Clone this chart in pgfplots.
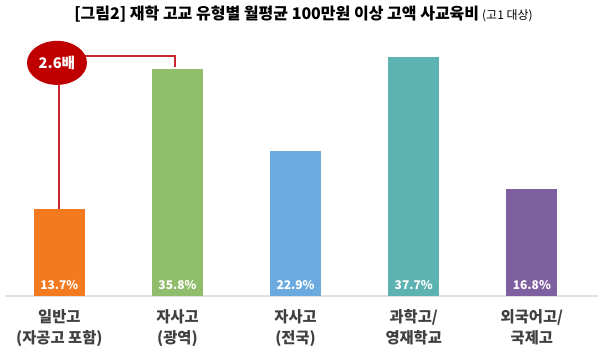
\documentclass[border=0pt]{standalone}
\usepackage{fontspec}
\setmainfont{Noto Sans CJK KR}
\usepackage{pgfplots}
\pgfplotsset{compat=1.18}
\definecolor{cOr}{HTML}{F47A1F}
\definecolor{cGr}{HTML}{8FBD6B}
\definecolor{cBl}{HTML}{6AAADF}
\definecolor{cTe}{HTML}{5CB3B1}
\definecolor{cPu}{HTML}{7E5FA0}
\definecolor{cRed}{HTML}{C00000}
\definecolor{cLine}{HTML}{C8282E}
\definecolor{cTxt}{HTML}{404040}
\tikzset{vlab/.style={text=white, font=\fontsize{9}{10}\selectfont\bfseries, yshift=8pt}}
\begin{document}
\begin{tikzpicture}
\begin{axis}[
  scale only axis, width=444.75pt, height=222pt,
  xmin=-0.46, xmax=4.56, ymin=0, ymax=46.6,
  axis x line=bottom, axis y line=none,
  x axis line style={-, draw=black!12, line width=1pt},
  xtick={0,1,2,3,4}, major tick length=0pt,
  xticklabels={일반고\\(자공고 포함), 자사고\\(광역), 자사고\\(전국), 과학고/\\영재학교, 외국어고/\\국제고},
  xticklabel style={align=center, font=\fontsize{11.5}{15.75}\selectfont\bfseries, text=cTxt, anchor=north, yshift=-6.5pt},
  ybar, bar width=38.25pt, bar shift=0pt,
  clip=false,
]
\addplot[fill=cOr, draw=none] coordinates {(0,13.7)};
\addplot[fill=cGr, draw=none] coordinates {(1,35.8)};
\addplot[fill=cBl, draw=none] coordinates {(2,22.9)};
\addplot[fill=cTe, draw=none] coordinates {(3,37.7)};
\addplot[fill=cPu, draw=none] coordinates {(4,16.8)};
\node[vlab] at (axis cs:0,0) {13.7\%};
\node[vlab] at (axis cs:1,0) {35.8\%};
\node[vlab] at (axis cs:2,0) {22.9\%};
\node[vlab] at (axis cs:3,0) {37.7\%};
\node[vlab] at (axis cs:4,0) {16.8\%};
\draw[cLine, line width=1.6pt] (axis cs:0,13.7) -- (axis cs:0,36.7);
\draw[cLine, line width=1.6pt] (axis cs:0,37.8) -- (axis cs:0.98,37.8) -- (axis cs:0.98,36.05);
\fill[cRed] (axis cs:-0.02,36.7) ellipse [x radius=22.5pt, y radius=16.5pt];
\node[text=white, font=\fontsize{11}{12}\selectfont\bfseries] at (axis cs:-0.02,36.7) {2.6배};
\node[xshift=1.5pt, yshift=-10.5pt] at (rel axis cs:0.5,1) {{\fontsize{12}{13}\selectfont\bfseries [그림2] 재학 고교 유형별 월평균 100만원 이상 고액 사교육비} {\fontsize{9}{10}\selectfont (고1 대상)}};
\coordinate (bl) at (rel axis cs:0,0);
\coordinate (tr) at (rel axis cs:1,1);
\end{axis}
\pgfresetboundingbox
\useasboundingbox ([xshift=-3.75pt,yshift=-42.75pt]bl) rectangle ([xshift=3.75pt]tr);
\end{tikzpicture}
\end{document}
